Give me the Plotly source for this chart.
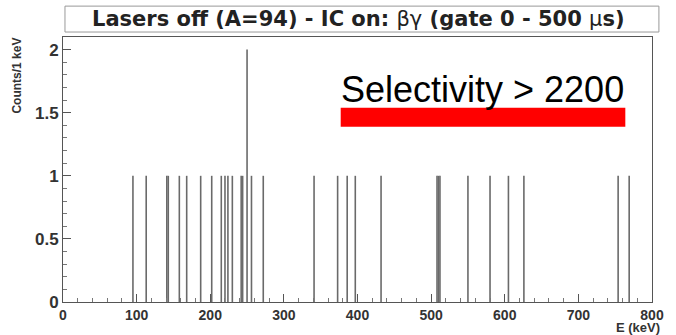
import plotly.graph_objects as go

# Energies (keV) of filled 1-keV bins and their counts
energies = [95, 113, 141, 143, 158, 168, 187, 202, 215, 220, 224, 230,
            242, 244, 250, 256, 272, 341, 373, 386, 397, 432,
            508, 510, 512, 550, 580, 605, 626, 754, 769]
counts = [1, 1, 1, 1, 1, 1, 1, 1, 1, 1, 1, 1,
          1, 1, 2, 1, 1, 1, 1, 1, 1, 1,
          1, 1, 1, 1, 1, 1, 1, 1, 1]

x_ticks = [0, 100, 200, 300, 400, 500, 600, 700, 800]
y_ticks = [0, 0.5, 1, 1.5, 2]
y_tick_text = ["0", "0.5", "1", "1.5", "2"]

title_html = ("<b>Lasers off (A=94) - IC on: </b>βγ<b> (gate 0 - 500 </b>μ<b>s)</b>")
selectivity_text = "Selectivity > 2200"

xs, ys = [], []
for e, c in zip(energies, counts):
    xs += [e, e, None]
    ys += [0, c, None]

fig = go.Figure()
fig.add_trace(go.Scatter(x=xs, y=ys, mode="lines",
                         line=dict(color="#6a6a6a", width=1.6),
                         hoverinfo="skip", showlegend=False))

W, H = 676, 335
L, R, T, B = 63, 17, 37, 32
pw, ph = W - L - R, H - T - B

def px(xpix):
    return (xpix - L) / pw

def py(ypix):
    return (H - B - ypix) / ph

xtickfont = dict(family="Liberation Sans, Arial, sans-serif", size=14, color="#333")
ytickfont = dict(family="Liberation Sans, Arial, sans-serif", size=17, color="#333")

fig.update_layout(
    width=W, height=H,
    margin=dict(l=L, r=R, t=T, b=B),
    paper_bgcolor="white", plot_bgcolor="white",
    xaxis=dict(range=[0, 800], tickvals=x_ticks, ticktext=[f"<b>{v}</b>" for v in x_ticks],
               ticks="inside", ticklen=8, tickcolor="#555", tickwidth=1,
               minor=dict(dtick=20, ticks="inside", ticklen=4, tickcolor="#777"),
               showgrid=False, zeroline=False, showline=True, linecolor="#555",
               linewidth=1, mirror=True, tickfont=xtickfont, ticklabelstandoff=0),
    yaxis=dict(range=[0, 2.1], tickvals=y_ticks, ticktext=[f"<b>{t}</b>" for t in y_tick_text],
               ticks="inside", ticklen=8, tickcolor="#555", tickwidth=1,
               minor=dict(dtick=0.1, ticks="inside", ticklen=4, tickcolor="#777"),
               showgrid=False, zeroline=False, showline=True, linecolor="#555",
               linewidth=1, mirror=True, tickfont=ytickfont),
)

# Title box
fig.add_shape(type="rect", xref="paper", yref="paper",
              x0=px(65), x1=px(666), y0=py(32), y1=py(6),
              line=dict(color="#999", width=1), fillcolor="white", layer="above")
fig.add_annotation(text=title_html, xref="paper", yref="paper",
                   x=px(362), y=py(19), xanchor="center", yanchor="middle",
                   showarrow=False,
                   font=dict(family="DejaVu Sans, sans-serif", size=21, color="#222"))

# Axis titles
fig.add_annotation(text="<b>E (keV)</b>", xref="paper", yref="paper",
                   x=px(668), y=py(337), xanchor="right", yanchor="bottom",
                   showarrow=False, borderpad=0,
                   font=dict(family="Liberation Sans, Arial, sans-serif", size=13, color="#333"))
fig.add_annotation(text="<b>Counts/1 keV</b>", xref="paper", yref="paper",
                   x=px(16), y=py(36), xanchor="center", yanchor="top",
                   textangle=-90, showarrow=False,
                   font=dict(family="Liberation Sans, Arial, sans-serif", size=12, color="#333"))

# Selectivity label and red bar
fig.add_annotation(text=selectivity_text, xref="paper", yref="paper",
                   x=px(342), y=py(90), xanchor="left", yanchor="middle",
                   showarrow=False,
                   font=dict(family="Liberation Sans, Arial, sans-serif", size=36, color="black"))
fig.add_shape(type="rect", xref="paper", yref="paper",
              x0=px(344), x1=px(632), y0=py(127), y1=py(108),
              line=dict(width=0), fillcolor="#ff0000", layer="above")

fig.write_html("out.html")
